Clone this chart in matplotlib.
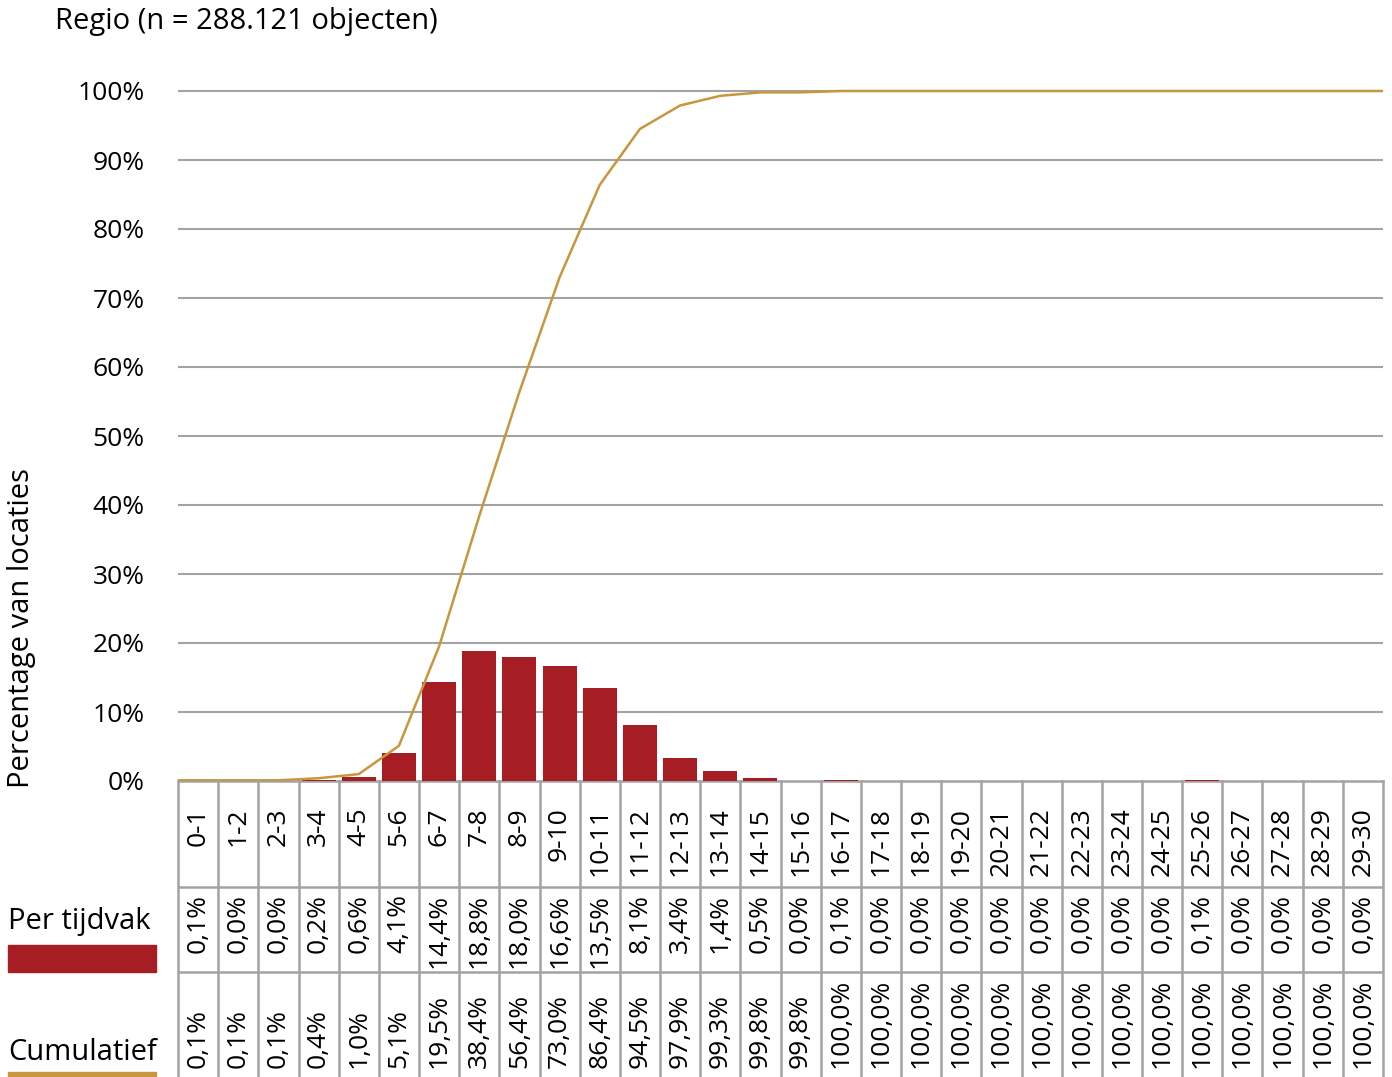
import numpy as np
import matplotlib.pyplot as plt
from matplotlib.patches import Rectangle

plt.rcParams['font.family'] = ['Open Sans', 'DejaVu Sans']

# data
categories = ['%d-%d' % (i, i + 1) for i in range(30)]
per_tijdvak = [0.1, 0.0, 0.0, 0.2, 0.6, 4.1, 14.4, 18.8, 18.0, 16.6,
               13.5, 8.1, 3.4, 1.4, 0.5, 0.0, 0.1, 0.0, 0.0, 0.0,
               0.0, 0.0, 0.0, 0.0, 0.0, 0.1, 0.0, 0.0, 0.0, 0.0]
cumulatief = [0.1, 0.1, 0.1, 0.4, 1.0, 5.1, 19.5, 38.4, 56.4, 73.0,
              86.4, 94.5, 97.9, 99.3, 99.8, 99.8, 100.0, 100.0, 100.0, 100.0,
              100.0, 100.0, 100.0, 100.0, 100.0, 100.0, 100.0, 100.0, 100.0, 100.0]
yticks = [0, 10, 20, 30, 40, 50, 60, 70, 80, 90, 100]

RED = '#A71D24'
GOLD = '#C8963C'
GRID = '#A3A3A3'
FS_LABEL = 21
FS_TICK = 19

W, H = 1392, 1077
fig = plt.figure(figsize=(W / 100, H / 100), dpi=100)

def box(l, t, r, b):
    # pixel box -> figure fraction [left, bottom, width, height]
    return [l / W, 1 - b / H, (r - l) / W, (b - t) / H]

x = np.arange(len(categories))

# main chart
ax = fig.add_axes(box(178, 60, 1383, 781))
ax.bar(x, per_tijdvak, width=0.85, color=RED, zorder=3)
xl = np.r_[-0.5, x, len(x) - 0.5]
yl = np.r_[cumulatief[0], cumulatief, cumulatief[-1]]
ax.plot(xl, yl, color=GOLD, lw=1.8, zorder=4)
ax.set_xlim(-0.5, len(x) - 0.5)
ax.set_ylim(0, 100 * 721 / 690)
ax.set_yticks(yticks)
ax.set_yticklabels(['%d%%' % v for v in yticks], fontsize=FS_TICK)
ax.tick_params(axis='y', length=0, pad=24)
ax.set_xticks([])
for v in yticks[1:]:
    ax.axhline(v, color=GRID, lw=1.5, zorder=1)
for s in ['top', 'right', 'left']:
    ax.spines[s].set_visible(False)
ax.spines['bottom'].set_color(GRID)
ax.spines['bottom'].set_linewidth(1.8)

fig.text(22 / W, 1 - 628 / H, 'Percentage van locaties', rotation=90,
         ha='center', va='center', fontsize=FS_LABEL)
fig.text(55 / W, 1 - 22 / H, 'Regio (n = 288.121 objecten)',
         ha='left', va='center', fontsize=FS_LABEL)

# table below the chart
tb = fig.add_axes(box(178, 781, 1383, 1077))
tb.set_xlim(-0.5, len(x) - 0.5)
tb.set_ylim(296, 0)
tb.axis('off')
for b in np.arange(len(x) + 1) - 0.5:
    tb.axvline(b, color=GRID, lw=1.8, clip_on=False)
for r in [106, 191]:
    tb.axhline(r, color=GRID, lw=1.8)
for i in x:
    tb.text(i, 26, categories[i], rotation=90, rotation_mode='anchor',
            ha='right', va='center', fontsize=FS_TICK)
    tb.text(i, 113, ('%.1f%%' % per_tijdvak[i]).replace('.', ','), rotation=90,
            rotation_mode='anchor', ha='right', va='center', fontsize=FS_TICK)
    tb.text(i, 287, ('%.1f%%' % cumulatief[i]).replace('.', ','), rotation=90,
            rotation_mode='anchor', ha='left', va='center', fontsize=FS_TICK,
            clip_on=False)

# legend on the left
fig.text(8 / W, 1 - 922 / H, 'Per tijdvak', ha='left', va='center', fontsize=FS_LABEL)
fig.add_artist(Rectangle((8 / W, 1 - 972 / H), 148 / W, 27 / H,
                         transform=fig.transFigure, color=RED))
fig.text(8 / W, 1 - 1053 / H, 'Cumulatief', ha='left', va='center', fontsize=FS_LABEL)
fig.add_artist(Rectangle((8 / W, 0), 148 / W, 5 / H,
                         transform=fig.transFigure, color=GOLD))

fig.savefig('out.png', dpi=100)
